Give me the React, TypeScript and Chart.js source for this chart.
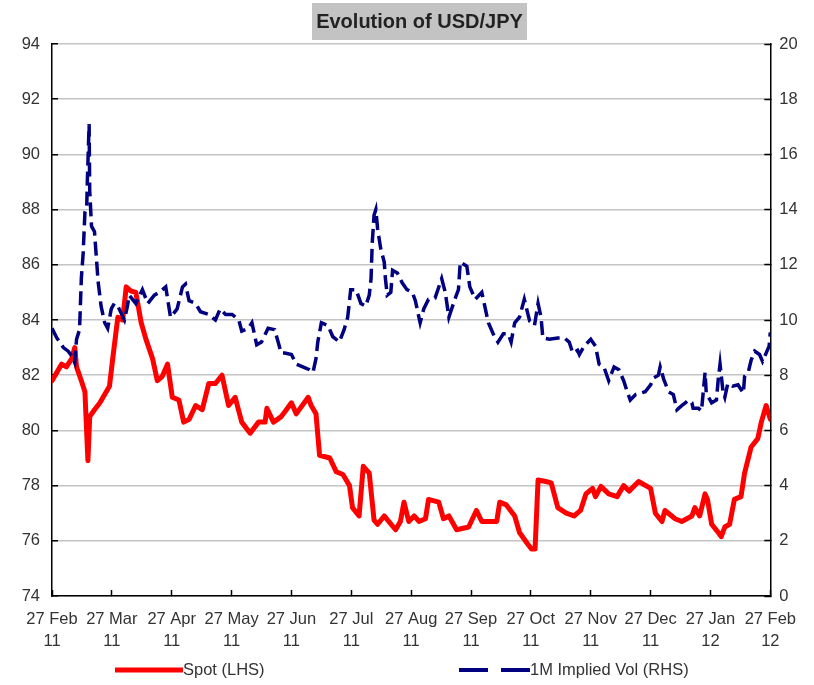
import React, { useEffect, useRef } from 'react';
import { Chart, registerables } from 'chart.js';

Chart.register(...registerables);

// ---- Data (x = months since 27 Feb 2011) ----
const spotMonths = [
  0, 0.16, 0.24, 0.33, 0.38, 0.41, 0.49, 0.55, 0.60, 0.63, 0.71, 0.80, 0.88, 0.96,
  1.02, 1.10, 1.18, 1.24, 1.32, 1.40, 1.49, 1.57, 1.68, 1.76, 1.84, 1.93,
  2.01, 2.12, 2.20, 2.29, 2.40, 2.51, 2.62, 2.73, 2.84, 2.95,
  3.06, 3.17, 3.31, 3.45, 3.56, 3.59, 3.70, 3.83, 3.90,
  4.00, 4.08, 4.28, 4.33, 4.41, 4.47, 4.64, 4.75, 4.86, 4.97,
  5.02, 5.13, 5.20, 5.30, 5.38, 5.44, 5.55, 5.74, 5.82, 5.88, 5.96,
  6.05, 6.13, 6.24, 6.29, 6.46, 6.54, 6.63, 6.76, 6.96,
  7.09, 7.18, 7.43, 7.48, 7.59, 7.73, 7.81, 7.94,
  8.01, 8.07, 8.12, 8.25, 8.34, 8.45, 8.59, 8.72, 8.83, 8.92,
  9.03, 9.08, 9.17, 9.30, 9.44, 9.55, 9.64, 9.80,
  10.0, 10.08, 10.19, 10.24, 10.41, 10.52, 10.69, 10.74, 10.82, 10.91, 10.95,
  11.02, 11.13, 11.18, 11.24, 11.32, 11.40, 11.51, 11.57, 11.68, 11.79, 11.85, 11.93, 12.0,
];
const spotValues = [
  81.8, 82.4, 82.3, 82.6, 83.0, 82.3, 81.8, 81.4, 78.9, 80.5, 80.75, 81.0, 81.3, 81.6,
  82.7, 84.1, 84.0, 85.2, 85.05, 85.0, 83.9, 83.3, 82.6, 81.8, 81.95, 82.4,
  81.2, 81.1, 80.3, 80.4, 80.9, 80.75, 81.7, 81.7, 82.0, 80.9,
  81.2, 80.3, 79.9, 80.3, 80.3, 80.8, 80.3, 80.5, 80.7,
  81.0, 80.6, 81.2, 80.9, 80.6, 79.1, 79.0, 78.5, 78.4, 78.0,
  77.2, 76.9, 78.7, 78.45, 76.75, 76.6, 76.9, 76.4, 76.7, 77.4, 76.7,
  76.9, 76.7, 76.8, 77.5, 77.4, 76.8, 76.9, 76.4, 76.5,
  77.1, 76.7, 76.7, 77.4, 77.3, 76.9, 76.3, 75.9,
  75.7, 75.7, 78.2, 78.15, 78.1, 77.2, 77.0, 76.9, 77.1, 77.7,
  77.9, 77.6, 77.97, 77.7, 77.6, 78.0, 77.8, 78.15,
  77.9, 77.0, 76.7, 77.1, 76.8, 76.7, 76.9, 77.2, 76.9, 77.7, 77.5,
  76.6, 76.3, 76.15, 76.5, 76.6, 77.5, 77.6, 78.45, 79.4, 79.7, 80.3, 80.9, 80.4,
];

const volMonths = [
  0, 0.08, 0.19, 0.27, 0.33, 0.38, 0.41, 0.46, 0.49, 0.52, 0.55, 0.58, 0.59, 0.60, 0.62,
  0.63, 0.66, 0.71, 0.74, 0.77, 0.82, 0.88, 0.93, 0.99,
  1.04, 1.10, 1.21, 1.26, 1.29, 1.40, 1.51, 1.60, 1.71, 1.79, 1.90, 1.98,
  2.09, 2.18, 2.23, 2.29, 2.40, 2.48, 2.62, 2.73, 2.81, 2.90,
  3.01, 3.12, 3.17, 3.28, 3.34, 3.42, 3.50, 3.61, 3.72, 3.83, 3.89,
  4.00, 4.08, 4.19, 4.30, 4.36, 4.41, 4.44, 4.50, 4.61, 4.69, 4.80, 4.88, 4.94, 4.99,
  5.08, 5.16, 5.24, 5.30, 5.33, 5.35, 5.38, 5.41, 5.44, 5.49, 5.55, 5.57, 5.60, 5.66, 5.69,
  5.77, 5.85, 5.93, 6.02, 6.07, 6.15, 6.21, 6.29, 6.40, 6.51, 6.57, 6.63, 6.73, 6.79,
  6.82, 6.93, 6.98, 7.07, 7.18, 7.23, 7.29, 7.37, 7.45, 7.54, 7.62, 7.67, 7.73, 7.81,
  7.89, 7.98, 8.06, 8.12, 8.17, 8.20, 8.31, 8.45, 8.56, 8.64, 8.70, 8.78, 8.81, 8.89,
  9.00, 9.08, 9.14, 9.22, 9.30, 9.39, 9.47, 9.55, 9.61, 9.66, 9.75, 9.91,
  10.0, 10.05, 10.13, 10.16, 10.22, 10.30, 10.38, 10.44, 10.52, 10.58, 10.63, 10.69, 10.71,
  10.80, 10.85, 10.91, 10.93, 11.02, 11.10, 11.13, 11.16, 11.21, 11.24, 11.29, 11.37, 11.46,
  11.55, 11.57, 11.63, 11.68, 11.74, 11.82, 11.87, 11.93, 11.98, 12.0,
];
const volValues = [
  9.7, 9.35, 9.0, 8.87, 8.7, 8.45, 9.3, 9.65, 11.5, 12.4, 13.9, 14.1, 15.0, 15.7, 17.1,
  14.7, 13.4, 13.2, 12.3, 11.4, 10.5, 9.9, 9.7, 10.4,
  10.6, 10.5, 10.0, 10.5, 10.9, 10.6, 11.1, 10.6, 10.9, 11.0, 11.2, 10.1,
  10.4, 11.2, 11.3, 10.7, 10.6, 10.3, 10.2, 10.0, 10.4, 10.2,
  10.2, 10.0, 9.6, 9.7, 9.9, 9.1, 9.2, 9.7, 9.65, 8.8, 8.8,
  8.75, 8.4, 8.3, 8.2, 8.1, 8.6, 9.2, 9.9, 9.8, 9.4, 9.2, 9.65, 10.1, 11.1,
  11.1, 10.6, 10.5, 10.9, 11.5, 12.8, 13.8, 14.0, 13.3, 12.6, 12.1, 11.5, 10.9, 11.0, 11.8,
  11.7, 11.35, 11.1, 11.0, 10.7, 9.9, 10.4, 10.75, 10.8, 11.5, 11.0, 10.1, 10.75, 11.1,
  12.1, 11.95, 11.2, 10.75, 11.0, 10.5, 9.9, 9.5, 9.2, 9.5, 9.5, 9.2, 9.9, 10.1,
  10.75, 9.96, 9.8, 10.6, 10.1, 9.35, 9.3, 9.35, 9.35, 9.2, 8.8, 8.9, 8.75, 9.05,
  9.3, 9.05, 8.4, 8.3, 7.8, 8.3, 8.2, 7.8, 7.4, 7.1, 7.3, 7.4,
  7.65, 7.9, 8.0, 8.3, 7.85, 7.4, 7.3, 6.75, 6.9, 7.0, 7.1, 7.0, 6.8,
  6.8, 6.7, 8.1, 7.35, 7.0, 7.1, 7.85, 8.4, 7.4, 7.2, 7.7, 7.6, 7.65,
  7.35, 7.95, 8.1, 8.55, 8.87, 8.75, 8.5, 8.8, 9.05, 9.55,
];

const xTickMonths = ['27 Feb', '27 Mar', '27 Apr', '27 May', '27 Jun', '27 Jul', '27 Aug', '27 Sep', '27 Oct', '27 Nov', '27 Dec', '27 Jan', '27 Feb'];
const xTickYears = ['11', '11', '11', '11', '11', '11', '11', '11', '11', '11', '11', '12', '12'];

const titleText = 'Evolution of USD/JPY';
const spotLabel = 'Spot (LHS)';
const volLabel = '1M Implied Vol (RHS)';

const FONT = "'Liberation Sans', Arial, sans-serif";
const TEXT_COLOR = '#333333';
const SPOT_COLOR = '#ff0000';
const VOL_COLOR = '#000080';

const titlePlugin = {
  id: 'titleBox',
  afterDraw(chart: any) {
    const ctx = chart.ctx;
    ctx.save();
    ctx.fillStyle = '#c3c3c3';
    ctx.fillRect(312, 3, 215, 37);
    ctx.fillStyle = '#222222';
    ctx.font = `bold 20px ${FONT}`;
    ctx.textAlign = 'center';
    ctx.textBaseline = 'middle';
    ctx.fillText(titleText, 419.5, 22);
    ctx.restore();
  },
};

const legendPlugin = {
  id: 'customLegend',
  afterDraw(chart: any) {
    const ctx = chart.ctx;
    const y = 670;
    ctx.save();
    ctx.lineCap = 'butt';
    ctx.strokeStyle = SPOT_COLOR;
    ctx.lineWidth = 5;
    ctx.beginPath();
    ctx.moveTo(115, y);
    ctx.lineTo(183, y);
    ctx.stroke();
    ctx.strokeStyle = VOL_COLOR;
    ctx.lineWidth = 4;
    ctx.setLineDash([29, 13]);
    ctx.beginPath();
    ctx.moveTo(459, y);
    ctx.lineTo(530, y);
    ctx.stroke();
    ctx.setLineDash([]);
    ctx.fillStyle = TEXT_COLOR;
    ctx.font = `16.5px ${FONT}`;
    ctx.textAlign = 'left';
    ctx.textBaseline = 'middle';
    ctx.fillText(spotLabel, 183, y);
    ctx.fillText(volLabel, 530, y);
    ctx.restore();
  },
};

export default function App() {
  const ref = useRef<HTMLCanvasElement>(null);

  useEffect(() => {
    if (!ref.current) return;
    const chart = new Chart(ref.current, {
      type: 'line',
      data: {
        datasets: [
          {
            label: spotLabel,
            data: spotMonths.map((m, i) => ({ x: m, y: spotValues[i] })),
            borderColor: SPOT_COLOR,
            backgroundColor: SPOT_COLOR,
            borderWidth: 5,
            borderJoinStyle: 'round',
            borderCapStyle: 'round',
            pointRadius: 0,
            tension: 0,
            yAxisID: 'y',
            order: 2,
          },
          {
            label: volLabel,
            data: volMonths.map((m, i) => ({ x: m, y: volValues[i] })),
            borderColor: VOL_COLOR,
            backgroundColor: VOL_COLOR,
            borderWidth: 3.5,
            borderDash: [14, 6],
            pointRadius: 0,
            tension: 0,
            yAxisID: 'y1',
            order: 1,
          },
        ],
      },
      options: {
        responsive: false,
        animation: false,
        devicePixelRatio: 1,
        layout: { padding: { top: 44, left: 0, right: 0, bottom: 0 } },
        plugins: {
          legend: { display: false },
          title: { display: false },
          tooltip: { enabled: false },
        },
        scales: {
          x: {
            type: 'linear',
            min: 0,
            max: 12,
            afterFit: (s: any) => { s.height = 89; },
            afterBuildTicks: (s: any) => {
              s.ticks = xTickMonths.map((_, i) => ({ value: i }));
            },
            ticks: {
              autoSkip: false,
              maxRotation: 0,
              minRotation: 0,
              padding: 18,
              color: TEXT_COLOR,
              font: { family: FONT, size: 16.5, lineHeight: '22px' },
              callback: (v: any) => [xTickMonths[v], xTickYears[v]],
            },
            grid: {
              drawOnChartArea: false,
              drawTicks: true,
              tickLength: -6,
              tickColor: '#000',
              tickWidth: 1.5,
            },
            border: { display: true, color: '#000', width: 1.5 },
          },
          y: {
            position: 'left',
            min: 74,
            max: 94,
            afterFit: (s: any) => { s.width = 52; },
            ticks: {
              stepSize: 2,
              padding: 18,
              color: TEXT_COLOR,
              font: { family: FONT, size: 16.5 },
            },
            grid: {
              color: '#c4c4c4',
              lineWidth: 1.5,
              drawTicks: true,
              tickLength: -6,
              tickColor: '#000',
              tickWidth: 1.5,
            },
            border: { display: true, color: '#000', width: 1.5 },
          },
          y1: {
            position: 'right',
            min: 0,
            max: 20,
            afterFit: (s: any) => { s.width = 38; },
            ticks: {
              stepSize: 2,
              padding: 15,
              color: TEXT_COLOR,
              font: { family: FONT, size: 16.5 },
            },
            grid: {
              drawOnChartArea: false,
              drawTicks: true,
              tickLength: -6,
              tickColor: '#000',
              tickWidth: 1.5,
            },
            border: { display: true, color: '#000', width: 1.5 },
          },
        },
      },
      plugins: [titlePlugin, legendPlugin],
    } as any);
    return () => chart.destroy();
  }, []);

  return (
    <div style={{ position: 'fixed', left: 0, top: 0, width: 814, height: 685, background: '#fff' }}>
      <canvas ref={ref} width={814} height={685} style={{ display: 'block' }} />
    </div>
  );
}
